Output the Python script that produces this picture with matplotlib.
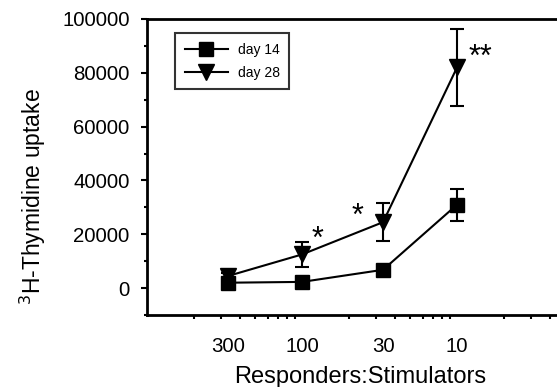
import matplotlib
matplotlib.use('Agg')
import matplotlib.pyplot as plt
import matplotlib.transforms as mtransforms
from matplotlib.lines import Line2D
import numpy as np
from matplotlib.ticker import LogLocator, NullFormatter, MultipleLocator

plt.rcParams['font.family'] = ['Liberation Sans', 'DejaVu Sans']

# responder:stimulator ratios, plotted as stimulator fraction on a log axis
ratios = [300, 100, 30, 10]
tick_labels = ['300', '100', '30', '10']

day14_mean = [2000, 2300, 6800, 31000]
day14_err = [1000, 800, 1200, 6000]
day28_mean = [4500, 12500, 24500, 82000]
day28_err = [1200, 4500, 7000, 14300]

# significance marks: (ratio position, height, text)
sig_x = [79, 44, 7.1]
sig_y = [20700, 29300, 88700]
sig_text = ['*', '*', '**']

x = 1.0 / np.array(ratios)

fig = plt.figure(figsize=(5.57, 3.87), dpi=100)
# axes runs off the right edge of the figure, as in the original
ax = fig.add_axes([147 / 557, 1 - 315 / 387, (573 - 147) / 557, (315 - 19) / 387])

ax.errorbar(x, day14_mean, yerr=day14_err, color='black', marker='s', markersize=9.5,
            linewidth=1.5, elinewidth=1.5, capsize=4.8, capthick=1.5)
ax.errorbar(x, day28_mean, yerr=day28_err, color='black', marker='v', markersize=11,
            linewidth=1.5, elinewidth=1.5, capsize=4.8, capthick=1.5)

# the asterisk glyph sits high in its text box, shift it down a little
star_tr = mtransforms.offset_copy(ax.transData, fig=fig, y=-8, units='dots')
for sx, sy, st in zip(sig_x, sig_y, sig_text):
    ax.text(1.0 / sx, sy, st, fontsize=22, ha='center', va='center', transform=star_tr)

ax.set_xscale('log')
ax.set_xlim(0.001, 0.56)
ax.set_ylim(-10000, 100000)

ax.set_xticks(x)
ax.set_xticklabels(tick_labels)
ax.xaxis.set_minor_locator(LogLocator(base=10, subs=np.arange(2, 10)))
ax.xaxis.set_minor_formatter(NullFormatter())
ax.tick_params(axis='x', which='major', length=0, pad=16, labelsize=14.7)
ax.tick_params(axis='x', which='minor', length=3, width=1.5, direction='out')

ax.set_yticks([0, 20000, 40000, 60000, 80000, 100000])
ax.yaxis.set_minor_locator(MultipleLocator(10000))
ax.tick_params(axis='y', which='major', length=4.5, width=1.5, labelsize=14.7, pad=8)
ax.tick_params(axis='y', which='minor', length=2.5, width=1.5)

for side in ['left', 'bottom', 'top']:
    ax.spines[side].set_linewidth(2)
ax.spines['right'].set_visible(False)

ax.set_xlabel('Responders:Stimulators', fontsize=17, labelpad=7)
ax.set_ylabel('$^3$H-Thymidine uptake', fontsize=16.5)
ax.yaxis.set_label_coords(-0.232, 0.40)

handles = [Line2D([], [], color='black', marker='s', markersize=9.5, linewidth=1.5),
           Line2D([], [], color='black', marker='v', markersize=11, linewidth=1.5)]
leg = ax.legend(handles, ['day 14', 'day 28'], loc='upper left',
                bbox_to_anchor=(28 / 426, 1 - 14 / 296), fontsize=10,
                frameon=True, fancybox=False, edgecolor='black', handlelength=3.1,
                borderpad=0.7, labelspacing=0.65, handletextpad=0.7,
                borderaxespad=0)
leg.get_frame().set_linewidth(1.5)
fig.savefig('out.png', dpi=100)
